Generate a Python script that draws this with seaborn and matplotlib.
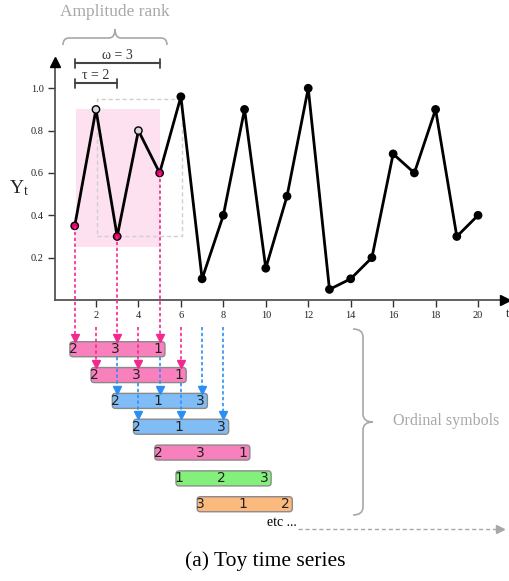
import numpy as np
import pandas as pd
import matplotlib
matplotlib.use("Agg")
import matplotlib.pyplot as plt
import seaborn as sns
from matplotlib.patches import Rectangle, FancyBboxPatch, PathPatch
from matplotlib.path import Path

# data
t_vals = list(range(1, 21))
y_vals = [0.35, 0.90, 0.30, 0.80, 0.60, 0.96, 0.10, 0.40, 0.90, 0.15,
          0.49, 1.00, 0.05, 0.10, 0.20, 0.69, 0.60, 0.90, 0.30, 0.40]
point_kind = ["win", "ref", "win", "ref", "win"] + ["plain"] * 15

x_ticks = [2, 4, 6, 8, 10, 12, 14, 16, 18, 20]
y_ticks = [0.2, 0.4, 0.6, 0.8, 1.0]

window_starts = [1, 2, 3, 4, 5, 6, 7]
ordinal_labels = [["2", "3", "1"], ["2", "3", "1"], ["2", "1", "3"], ["2", "1", "3"],
                  ["2", "3", "1"], ["1", "2", "3"], ["3", "1", "2"]]
box_colors = ["#f880bd", "#f880bd", "#80bcf6", "#80bcf6", "#f880bd", "#84f07c", "#fcb97e"]

PINK = "#f5288f"
BLUE = "#2a8ff5"
GRAY = "#a8a8a8"

df = pd.DataFrame({"t": t_vals, "Y": y_vals, "kind": point_kind})

sns.set_theme(style="ticks")
plt.rcParams["font.family"] = ["Liberation Serif", "DejaVu Serif"]

fig = plt.figure(figsize=(5.09, 5.81), dpi=100)
ax = fig.add_axes([55 / 509, 1 - 300 / 581, 450 / 509, 238 / 581])

# window highlight boxes
ax.add_patch(Rectangle((1.05, 0.25), 3.95, 0.65, fc="#fde1f0", ec="none", zorder=0))
ax.add_patch(Rectangle((2.03, 0.30), 4.01, 0.65, fill=False, ec="#cfcfcf",
                       ls=(0, (3, 2)), lw=1, zorder=1))

sns.lineplot(data=df, x="t", y="Y", color="black", lw=2, ax=ax, zorder=3)
sns.scatterplot(data=df, x="t", y="Y", hue="kind",
                palette={"win": "#e8006f", "ref": "#d9d9d9", "plain": "black"},
                edgecolor="black", linewidth=1, s=28, legend=False, ax=ax, zorder=4)

ax.set_xlim(0.07, 21.27)
ax.set_ylim(0, 1.124)
sns.despine(ax=ax)
for sp in ["left", "bottom"]:
    ax.spines[sp].set_color("#555555")
    ax.spines[sp].set_linewidth(1.3)
ax.set_xticks(x_ticks)
ax.set_xticklabels([str(v) for v in x_ticks])
ax.set_yticks(y_ticks)
ax.set_yticklabels([f"{v:.1f}" for v in y_ticks])
ax.tick_params(direction="out", length=5, width=1, color="#333333",
               labelsize=7.5, pad=3, labelcolor="#222222")
ax.set_xlabel("")
ax.set_ylabel("$\\mathregular{Y_t}$", rotation=0, fontsize=14, ha="center", va="center")
ax.yaxis.set_label_coords(-0.08, 0.47)

# axis arrow heads
ax.plot([0.07], [1.124], marker="^", ms=7, color="black", clip_on=False, zorder=6)
ax.plot([21.27], [0], marker=">", ms=7, color="black", clip_on=False, zorder=6)
ax.text(21.4, -0.065, "t", fontsize=9, ha="center", va="center", clip_on=False)

# omega / tau bars
for y0, t1, lab, ty in [(1.118, 5, "ω = 3", 1.155), (1.024, 3, "τ = 2", 1.06)]:
    ax.plot([1, t1], [y0, y0], color="#444444", lw=1.5, clip_on=False)
    for tx in [1, t1]:
        ax.plot([tx, tx], [y0 - 0.022, y0 + 0.022], color="#444444", lw=1.3, clip_on=False)
    ax.text((1 + t1) / 2, ty, lab, fontsize=10, ha="center", va="center", color="#333333")

# ordinal symbol boxes
box_h = 0.071
tops = [-0.197 - 0.122 * i for i in range(len(window_starts))]
for s, labs, col, top in zip(window_starts, ordinal_labels, box_colors, tops):
    box = FancyBboxPatch((s - 0.23, top - box_h), 4.48, box_h,
                         boxstyle="round,pad=0,rounding_size=0.15", mutation_aspect=0.1,
                         fc=col, ec="#8a8a8a", lw=1, clip_on=False, zorder=2)
    ax.add_patch(box)
    for k, lab in enumerate(labs):
        ax.text(s + 2 * k - 0.08, top - box_h / 2, lab, fontsize=10, ha="center",
                va="center", family="DejaVu Sans", color="#222222", zorder=7)


def dashed_arrow(tx, y_from, y_to, color):
    ax.plot([tx, tx], [y_from, y_to + 0.02], ls=(0, (2, 1.5)), lw=1.2, color=color,
            clip_on=False, zorder=5)
    ax.plot([tx], [y_to + 0.018], marker="v", ms=6, color=color, clip_on=False, zorder=5)


below_axis = -0.128
bottoms = [tp - box_h for tp in tops]
for tx in [1, 3, 5]:
    dashed_arrow(tx, y_vals[tx - 1], tops[0], PINK)
for tx in [2, 4, 6]:
    dashed_arrow(tx, below_axis, tops[1], PINK)
for tx in [3, 5]:
    dashed_arrow(tx, bottoms[0], tops[2], BLUE)
dashed_arrow(7, below_axis, tops[2], BLUE)
for tx in [4, 6]:
    dashed_arrow(tx, bottoms[1], tops[3], BLUE)
dashed_arrow(8, below_axis, tops[3], BLUE)

# annotation overlay in pixel coords
ov = fig.add_axes([0, 0, 1, 1])
ov.set_xlim(0, 509)
ov.set_ylim(581, 0)
ov.axis("off")
ov.patch.set_alpha(0)


def hbrace(x0, x1, y_end, y_mid, y_tip, r=6):
    m = (x0 + x1) / 2
    verts = [(x0, y_end), (x0, y_mid), (x0 + r, y_mid), (m - r, y_mid),
             (m, y_mid), (m, y_tip), (m, y_mid), (m + r, y_mid),
             (x1 - r, y_mid), (x1, y_mid), (x1, y_end)]
    codes = [Path.MOVETO, Path.CURVE3, Path.CURVE3, Path.LINETO,
             Path.CURVE3, Path.CURVE3, Path.CURVE3, Path.CURVE3,
             Path.LINETO, Path.CURVE3, Path.CURVE3]
    ov.add_patch(PathPatch(Path(verts, codes), fill=False, ec=GRAY, lw=1.2))


def vbrace(y0, y1, x_end, x_mid, x_tip, r=8):
    m = (y0 + y1) / 2
    verts = [(x_end, y0), (x_mid, y0), (x_mid, y0 + r), (x_mid, m - r),
             (x_mid, m), (x_tip, m), (x_mid, m), (x_mid, m + r),
             (x_mid, y1 - r), (x_mid, y1), (x_end, y1)]
    codes = [Path.MOVETO, Path.CURVE3, Path.CURVE3, Path.LINETO,
             Path.CURVE3, Path.CURVE3, Path.CURVE3, Path.CURVE3,
             Path.LINETO, Path.CURVE3, Path.CURVE3]
    ov.add_patch(PathPatch(Path(verts, codes), fill=False, ec=GRAY, lw=1.2))


hbrace(63, 167, 45, 38, 29)
ov.text(115, 12, "Amplitude rank", fontsize=12.5, color=GRAY, ha="center", va="center")

vbrace(329, 515, 353, 363, 373)
ov.text(446, 421, "Ordinal symbols", fontsize=11.5, color=GRAY, ha="center", va="center")

ov.text(282, 523, "etc ...", fontsize=10, color="black", ha="center", va="center")
ov.plot([298, 498], [529, 529], ls=(0, (3, 2)), lw=1, color=GRAY)
ov.plot([500], [529], marker=">", ms=6, color=GRAY)

ov.text(265, 561, "(a) Toy time series", fontsize=15.5, color="black", ha="center", va="center")

fig.savefig("out.png", dpi=100)
